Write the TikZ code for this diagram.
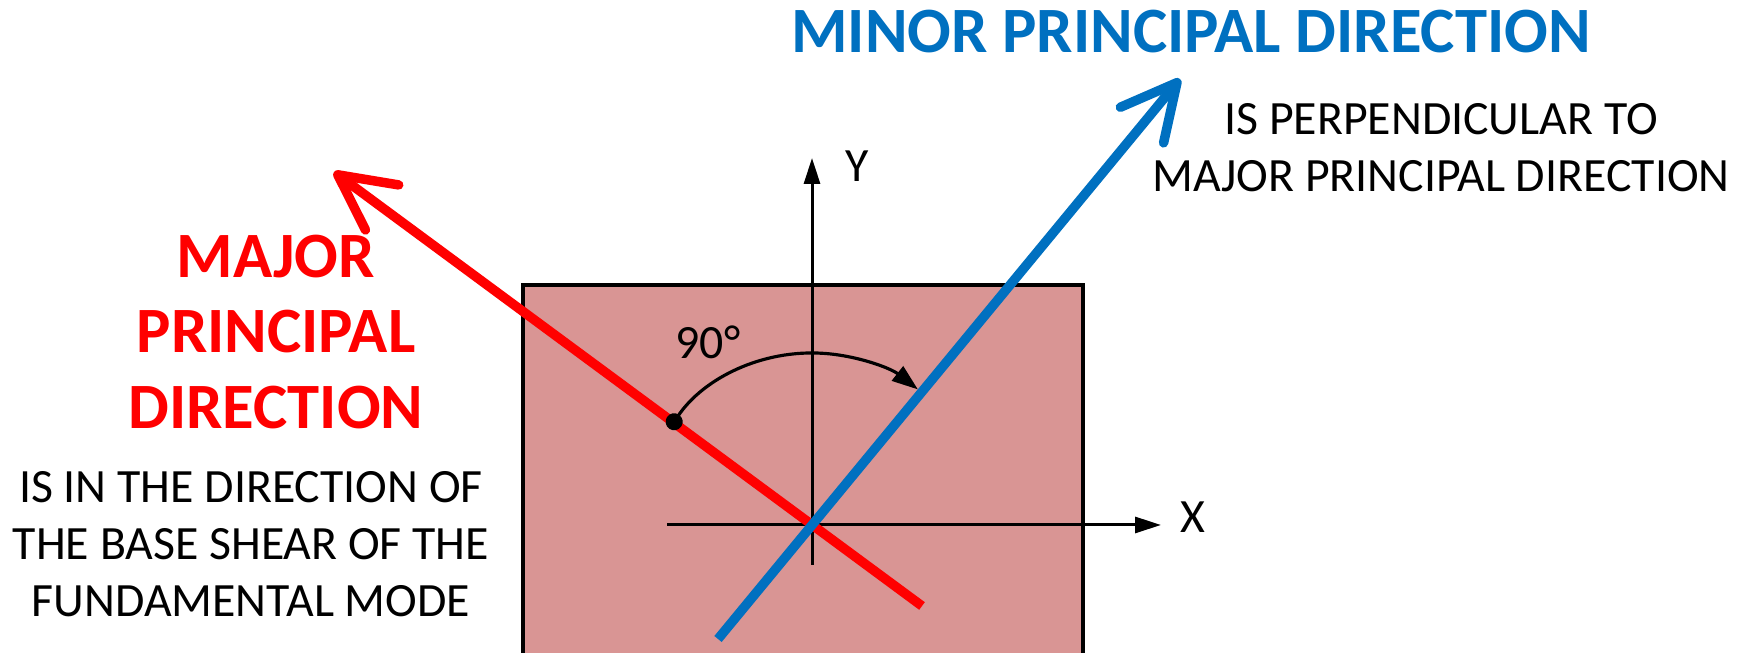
\documentclass[tikz,border=0pt]{standalone}
\usepackage{fontspec}
\setmainfont{Carlito}
\usetikzlibrary{arrows.meta}
\definecolor{majred}{HTML}{FF0000}
\definecolor{minblue}{HTML}{0070C0}
\definecolor{plate}{HTML}{D99594}
\tikzset{
  dirline/.style={line width=2.7pt,-{Straight Barb[length=5.5mm,width=5.6mm,round]}},
  ax/.style={draw=black,line width=.85pt,-{Triangle[length=2.6mm,width=1.6mm]}},
  turn/.style={draw=black,line width=.9pt,{Circle[length=1.7mm]}-{Triangle[length=2.6mm,width=1.8mm]}},
  head/.style={align=center,font=\fontsize{18.4}{21.6}\selectfont\bfseries},
  note/.style={align=center,font=\fontsize{13.6}{16.2}\selectfont},
}
\begin{document}
\begin{tikzpicture}[x=0.1mm,y=0.1mm]
  \clip (0,0) rectangle (1745,653);
  % ── plate ──
  \draw[fill=plate,line width=1.1pt] (523,-10) rectangle (1083,368);
  % ── axes ──
  \coordinate (O) at (812,128);
  \coordinate (xl) at (667,128); \coordinate (xr) at (1161,128);
  \coordinate (yb) at (812,88);  \coordinate (yt) at (812,495);
  \draw[ax] (xl) -- (xr);
  \draw[ax] (yb) -- (yt);
  \node[note] (xlab) at (1193,136) {X};
  \node[note] (ylab) at (857,487) {Y};
  % ── principal directions ──
  \coordinate (rtail) at (922,47);  \coordinate (rtip) at (334,481);
  \coordinate (btail) at (718,14);  \coordinate (btip) at (1180,574);
  \draw[dirline,majred] (rtail) -- (rtip);
  \draw[dirline,minblue] (btail) -- (btip);
  % ── angle ──
  \coordinate (adot) at (669.4,224.2);
  \draw[turn] (adot) arc[start angle=146,end angle=52,radius=172];
  \node[note] (ang) at (708,311) {90°};
  % ── labels ──
  \node[head,text=minblue] (minor) at (1191,621) {MINOR PRINCIPAL DIRECTION};
  \node[note] (perp) at (1441,505) {IS PERPENDICULAR TO\\MAJOR PRINCIPAL DIRECTION};
  \node[head,text=majred] (major) at (276,321) {MAJOR\\PRINCIPAL\\DIRECTION};
  \node[note] (shear) at (251,109) {IS IN THE DIRECTION OF\\THE BASE SHEAR OF THE\\FUNDAMENTAL MODE};
\end{tikzpicture}
\end{document}
